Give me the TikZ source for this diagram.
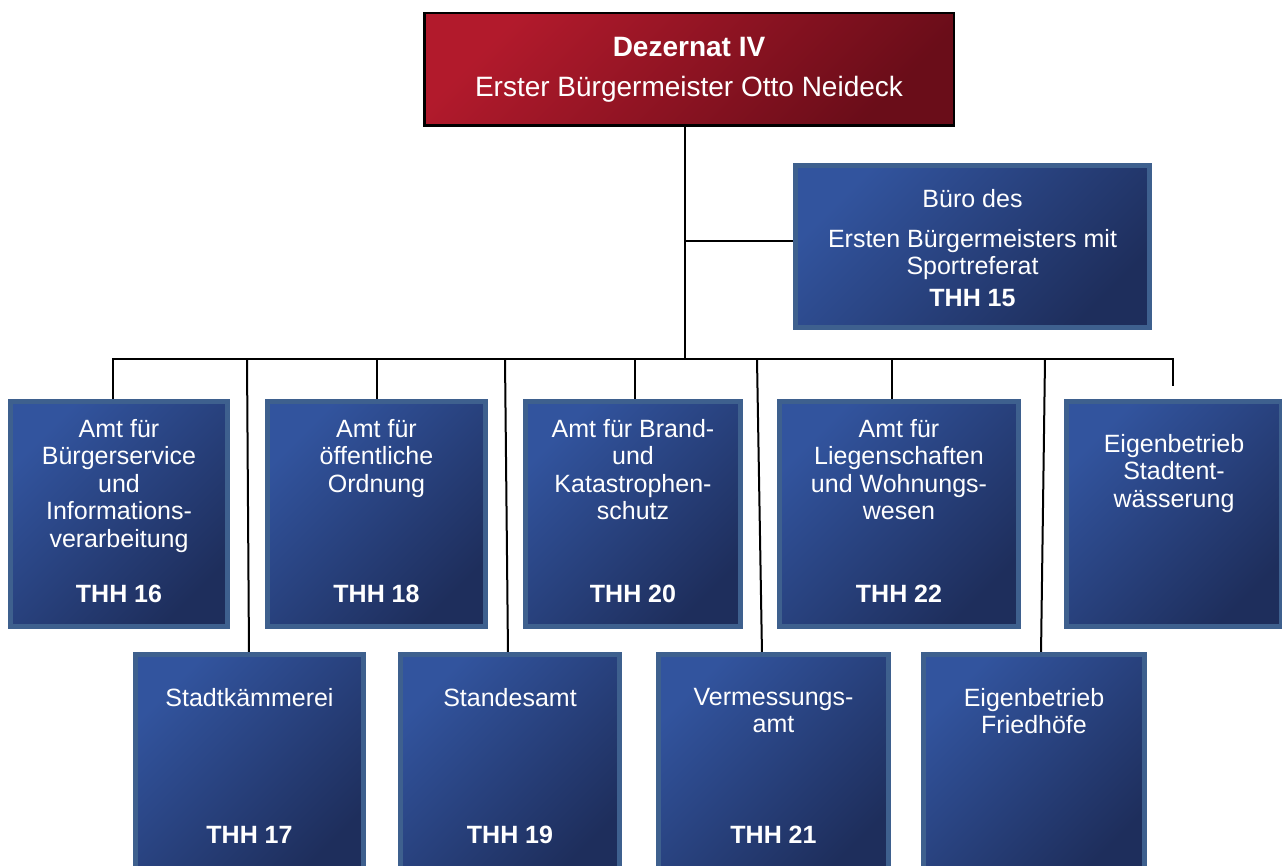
\documentclass[tikz,border=0pt]{standalone}
\usepackage{fontspec}
\setmainfont{Liberation Sans}
\usetikzlibrary{backgrounds}
\definecolor{bluetl}{RGB}{50,84,158}
\definecolor{bluebr}{RGB}{30,46,92}
\definecolor{blueedge}{RGB}{62,96,142}
\definecolor{redtl}{RGB}{178,26,44}
\definecolor{redbr}{RGB}{106,13,25}
\begin{document}
\begin{tikzpicture}[x=1pt,y=-1pt,
  unitbox/.style={draw=blueedge, line width=5pt, top color=bluetl, bottom color=bluebr, shading angle=45, inner sep=0pt, outer sep=0pt},
  headbox/.style={draw=black, line width=2.5pt, top color=redtl, bottom color=redbr, shading angle=45, inner sep=0pt, outer sep=0pt},
  unittext/.style={text=white, font=\fontsize{25}{27.5}\selectfont, align=center, inner sep=0pt, anchor=north},
  unitline/.style={text=white, font=\fontsize{25}{27.5}\selectfont, inner sep=0pt, anchor=base},
  thhtext/.style={text=white, font=\fontsize{25}{27.5}\selectfont\bfseries, inner sep=0pt, anchor=base},
  conn/.style={draw=black, line width=2pt}]
\useasboundingbox (0,0) rectangle (1282,866);

% head
\node[headbox, minimum width=529.5pt, minimum height=112.5pt] (dez) at (689,69.5) {};
\node[text=white, font=\fontsize{28}{32}\selectfont\bfseries, inner sep=0pt, anchor=base] (dezt) at (689,57) {Dezernat IV};
\node[text=white, font=\fontsize{28}{32}\selectfont, inner sep=0pt, anchor=base] (dezn) at (689,97) {Erster Bürgermeister Otto Neideck};

% Buero
\node[unitbox, minimum width=354pt, minimum height=162pt] (buero) at (972.5,246.5) {};
\node[unitline] (buero1) at (972.5,208) {Büro des};
\node[unittext] (buero2) at (972.5,229) {Ersten Bürgermeisters mit\\Sportreferat};
\node[thhtext] (buero3) at (972.5,306.5) {THH 15};

% row 1
\node[unitbox, minimum width=217pt, minimum height=225pt] (b16) at (119,514) {};
\node[unitbox, minimum width=218pt, minimum height=225pt] (b18) at (376.5,514) {};
\node[unitbox, minimum width=215pt, minimum height=225pt] (b20) at (633,514) {};
\node[unitbox, minimum width=239pt, minimum height=225pt] (b22) at (899,514) {};
\node[unitbox, minimum width=215pt, minimum height=225pt] (b23) at (1174,514) {};

\node[unittext] (t16) at (119,419) {Amt für\\Bürgerservice\\und\\Informations-\\verarbeitung};
\node[unittext] (t18) at (376.5,419) {Amt für\\öffentliche\\Ordnung};
\node[unittext] (t20) at (633,419) {Amt für Brand-\\und\\Katastrophen-\\schutz};
\node[unittext] (t22) at (899,419) {Amt für\\Liegenschaften\\und Wohnungs-\\wesen};
\node[unittext] (t23) at (1174,434) {Eigenbetrieb\\Stadtent-\\wässerung};

\node[thhtext] (n16) at (119,602) {THH 16};
\node[thhtext] (n18) at (376.5,602) {THH 18};
\node[thhtext] (n20) at (633,602) {THH 20};
\node[thhtext] (n22) at (899,602) {THH 22};

% row 2
\node[unitbox, minimum width=228pt, minimum height=223pt] (kaem) at (249.5,766) {};
\node[unitbox, minimum width=219pt, minimum height=223pt] (stand) at (510,766) {};
\node[unitbox, minimum width=230pt, minimum height=223pt] (verm) at (773.5,766) {};
\node[unitbox, minimum width=221pt, minimum height=223pt] (fried) at (1034,766) {};

\node[unittext] (t17) at (249.5,688) {Stadtkämmerei};
\node[unittext] (t19) at (510,688) {Standesamt};
\node[unittext] (t21) at (773.5,688) {Vermessungs-\\amt};
\node[unittext] (t24) at (1034,688) {Eigenbetrieb\\Friedhöfe};

\node[thhtext] (n17) at (249.5,843) {THH 17};
\node[thhtext] (n19) at (510,843) {THH 19};
\node[thhtext] (n21) at (773.5,843) {THH 21};

% connectors
\coordinate (trunk) at (685,359);
\coordinate (branch) at (685,241);
\coordinate (p1) at (113,359);
\coordinate (p2) at (247,359);
\coordinate (p3) at (377,359);
\coordinate (p4) at (505,359);
\coordinate (p5) at (635,359);
\coordinate (p6) at (757,359);
\coordinate (p7) at (892,359);
\coordinate (p8) at (1045,359);
\coordinate (p9) at (1173,359);
\coordinate (p9end) at (1173,386);

\begin{pgfonlayer}{background}
\draw[conn] (dez.south -| trunk) -- (trunk);
\draw[conn] (branch) -- (branch -| buero.west);
\draw[conn, line cap=rect] (p1) -- (p9);
\draw[conn] (p1) -- (p1 |- b16.north);
\draw[conn] (p3) -- (p3 |- b18.north);
\draw[conn] (p5) -- (p5 |- b20.north);
\draw[conn] (p7) -- (p7 |- b22.north);
\draw[conn] (p9) -- (p9end);
\draw[conn] (p2) -- ([xshift=2pt]p2 |- kaem.north);
\draw[conn] (p4) -- ([xshift=3pt]p4 |- stand.north);
\draw[conn] (p6) -- ([xshift=5pt]p6 |- verm.north);
\draw[conn] (p8) -- ([xshift=-4pt]p8 |- fried.north);
\end{pgfonlayer}
\end{tikzpicture}
\end{document}
